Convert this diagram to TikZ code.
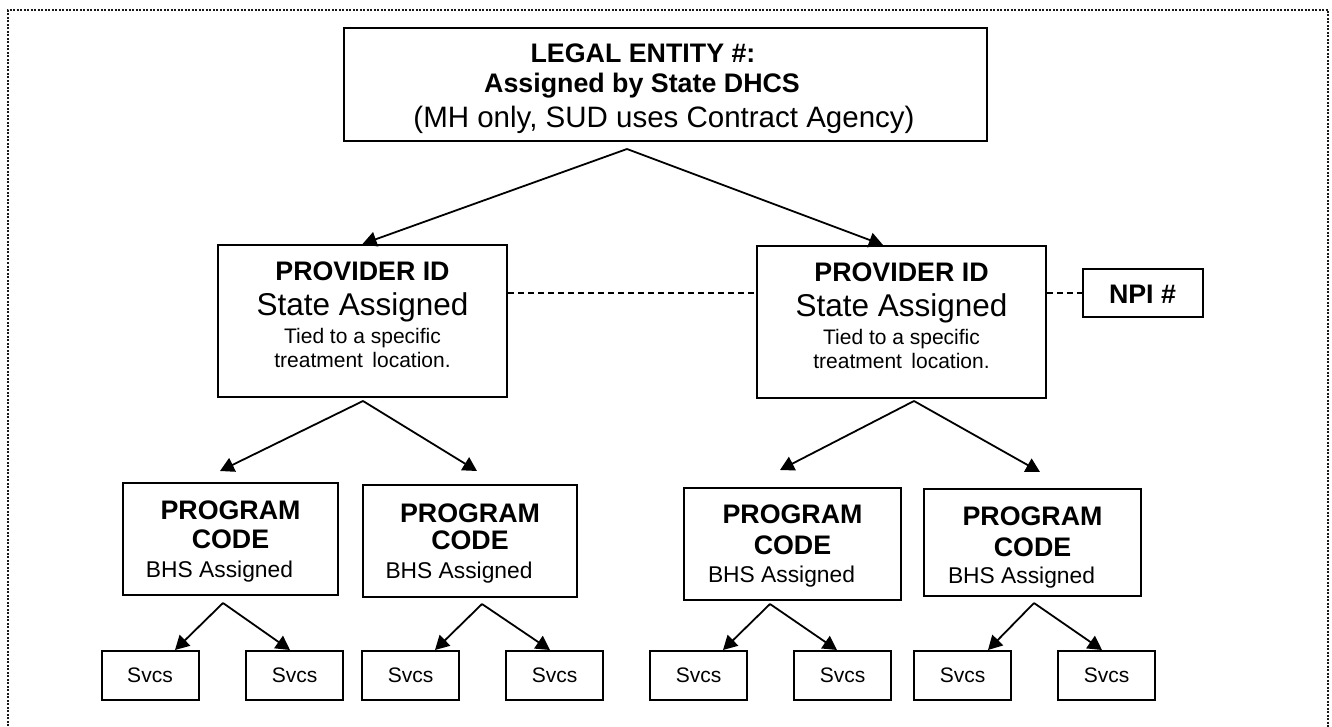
\documentclass[tikz,border=0pt]{standalone}
\usepackage{fontspec}
\setmainfont{Liberation Sans}
\usetikzlibrary{arrows.meta,calc}
\begin{document}
\begin{tikzpicture}[x=1pt,y=-1pt,
  box/.style={draw=black,line width=2pt,rectangle,inner sep=0pt,fill=white},
  arr/.style={line width=1.8pt,-{Triangle[length=14pt,width=15pt]}},
  dsh/.style={line width=1.5pt,dash pattern=on 6pt off 4pt},
  txt/.style={anchor=base,inner sep=0pt},
  hb/.style={font=\fontsize{26.8}{30}\selectfont\bfseries},
  big/.style={font=\fontsize{31.5}{34}\selectfont},
  sm/.style={font=\fontsize{21}{24}\selectfont},
  bhs/.style={font=\fontsize{22.8}{26}\selectfont},
  sv/.style={font=\fontsize{21}{24}\selectfont},
  svbox/.style={box,minimum width=97pt,minimum height=49pt},
  pcbox/.style={box,minimum width=216pt,minimum height=112pt},
  pidbox/.style={box,minimum width=289pt,minimum height=152pt}
]
\useasboundingbox (0,0) rectangle (1332,727);
\fill[white] (0,0) rectangle (1332,727);
\draw[line width=2pt,dash pattern=on 2pt off 1.5pt,black!90] (8,740) -- (8,10) -- (1328,10) -- (1328,740);

% boxes
\node[box,minimum width=643pt,minimum height=113pt] (top) at (665.5,84.5) {};
\node[pidbox] (p1) at (362.5,321) {};
\node[pidbox] (p2) at (901.5,322) {};
\node[box,minimum width=120pt,minimum height=48pt] (npi) at (1143,293) {};
\node[pcbox,minimum width=215pt] (c1) at (230.5,539) {};
\node[pcbox,minimum width=214pt] (c2) at (470,541) {};
\node[pcbox,minimum width=217pt] (c3) at (792.5,544) {};
\node[pcbox,minimum width=217pt,minimum height=107pt] (c4) at (1032.5,542.5) {};
\node[svbox] (s1) at (150,675.5) {};
\node[svbox] (s2) at (294.5,675.5) {};
\node[svbox] (s3) at (410.5,675.5) {};
\node[svbox] (s4) at (554.5,675.5) {};
\node[svbox] (s5) at (698.5,675.5) {};
\node[svbox] (s6) at (842.5,675.5) {};
\node[svbox] (s7) at (962.5,675.5) {};
\node[svbox] (s8) at (1106.5,675.5) {};

% texts
\node[txt,hb] (tl1) at (643,63) {LEGAL ENTITY \#:};
\node[txt,hb] (tl2) at (642,93) {Assigned by State DHCS};
\node[txt,font=\fontsize{29.5}{32}\selectfont] (tl3) at (664,128) {(MH only, SUD uses Contract Agency)};

\node[txt,hb] (p1a) at (362.5,280) {PROVIDER ID};
\node[txt,big] (p1b) at (362.5,315) {State Assigned};
\node[txt,sm] (p1c) at (362.5,343) {Tied to a specific};
\node[txt,sm] (p1d) at (362.5,367) {treatment\hspace{0.45em}location.};

\node[txt,hb] (p2a) at (901.5,281) {PROVIDER ID};
\node[txt,big] (p2b) at (901.5,316) {State Assigned};
\node[txt,sm] (p2c) at (901.5,344) {Tied to a specific};
\node[txt,sm] (p2d) at (901.5,368) {treatment\hspace{0.45em}location.};

\node[txt,hb] (npit) at (1142.5,303) {NPI \#};

\node[txt,hb] (c1a) at (230.5,519) {PROGRAM};
\node[txt,hb] (c1b) at (230.5,548) {CODE};
\node[txt,bhs] (c1c) at (219.5,577) {BHS Assigned};
\node[txt,hb] (c2a) at (470,522) {PROGRAM};
\node[txt,hb] (c2b) at (470,549) {CODE};
\node[txt,bhs] (c2c) at (459,578) {BHS Assigned};
\node[txt,hb] (c3a) at (792.5,523) {PROGRAM};
\node[txt,hb] (c3b) at (792.5,554) {CODE};
\node[txt,bhs] (c3c) at (781.5,582) {BHS Assigned};
\node[txt,hb] (c4a) at (1032.5,525) {PROGRAM};
\node[txt,hb] (c4b) at (1032.5,556) {CODE};
\node[txt,bhs] (c4c) at (1021.5,583) {BHS Assigned};

\foreach \s in {s1,s2,s3,s4,s5,s6,s7,s8}
  \node[txt,sv] at ($(\s.center)+(0,6.5)$) {Svcs};

% apex coordinates
\coordinate (a0) at (627,149);
\coordinate (a1) at (363,401);
\coordinate (a2) at (914,401);
\coordinate (b1) at (223,603);
\coordinate (b2) at (482,604);
\coordinate (b3) at (770,604);
\coordinate (b4) at (1034,603);

% connectors
\draw[arr] (a0) -- (p1.north);
\draw[arr] (a0) -- ($(p2.north)+(-18.5,0)$);
\draw[arr] (a1) -- ($(c1.north)+(-10.5,-11)$);
\draw[arr] (a1) -- ($(c2.north)+(7,-13)$);
\draw[arr] (a2) -- ($(c3.north)+(-12.5,-17)$);
\draw[arr] (a2) -- ($(c4.north)+(7.5,-16)$);
\draw[arr] (b1) -- ($(s1.north)+(25,0)$);
\draw[arr] (b1) -- ($(s2.north)+(-4.5,0)$);
\draw[arr] (b2) -- ($(s3.north)+(24.5,0)$);
\draw[arr] (b2) -- ($(s4.north)+(-4.5,0)$);
\draw[arr] (b3) -- ($(s5.north)+(24.5,0)$);
\draw[arr] (b3) -- ($(s6.north)+(-5.5,0)$);
\draw[arr] (b4) -- ($(s7.north)+(25.5,0)$);
\draw[arr] (b4) -- ($(s8.north)+(-4.5,0)$);

\draw[dsh] (p1.east |- npi.west) -- (p2.west |- npi.west);
\draw[dsh] (p2.east |- npi.west) -- (npi.west);
\end{tikzpicture}
\end{document}
